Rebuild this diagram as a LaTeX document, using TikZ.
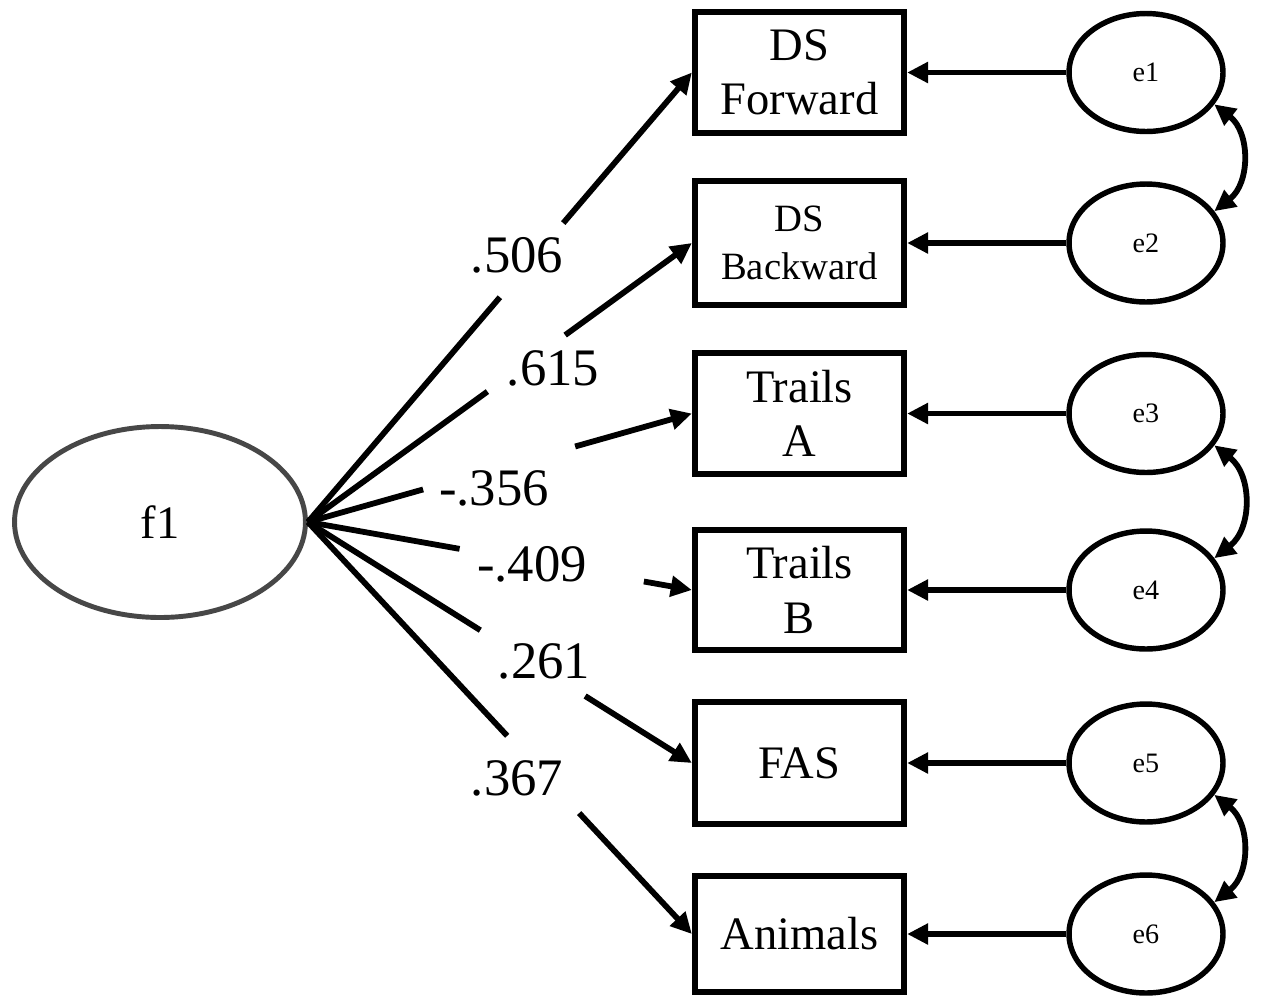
\documentclass[tikz,border=0pt]{standalone}
\usepackage{fontspec}
\setmainfont{Liberation Serif}
\usetikzlibrary{arrows.meta,shapes.geometric,calc}
\begin{document}
\begin{tikzpicture}[x=0.02cm,y=-0.02cm,
  obs/.style={draw, line width=3.6pt, minimum width=4.18cm, minimum height=2.42cm, inner sep=0pt, align=center, font=\fontsize{26.5}{31}\selectfont},
  err/.style={draw, ellipse, line width=3.1pt, minimum width=3.08cm, minimum height=2.36cm, inner sep=0pt, font=\fontsize{16}{18}\selectfont},
  lat/.style={draw=black!72, ellipse, line width=2.8pt, minimum width=5.82cm, minimum height=3.82cm, inner sep=0pt, font=\fontsize{26.5}{31}\selectfont},
  seg/.style={line width=3.3pt},
  arr/.style={line width=3.3pt, -{Triangle[length=12pt,width=11.5pt]}},
  dbl/.style={line width=3.3pt, {Triangle[length=12pt,width=11.5pt]}-{Triangle[length=12pt,width=11.5pt]}},
  coef/.style={font=\fontsize{30}{36}\selectfont, inner sep=0pt}
]
\useasboundingbox (0,0) rectangle (1262,995);

% latent factor
\node[lat] (f1) at (160,522) {f1};

% observed variables
\node[obs] (dsf) at (799.5,72.5) {DS\\Forward};
\node[obs, minimum height=2.48cm, font=\fontsize{22}{27}\selectfont] (dsb) at (799.5,243) {DS\\Backward};
\node[obs] (ta) at (799.5,413.5) {Trails\\A};
\node[obs, minimum height=2.40cm] (tb) at (799.5,590) {Trails\\B};
\node[obs, minimum height=2.44cm] (fas) at (799.5,763) {FAS};
\node[obs, minimum height=2.32cm] (ani) at (799.5,934) {Animals};

% error terms
\node[err] (e1) at (1146,72.5) {e1};
\node[err] (e2) at (1146,243) {e2};
\node[err] (e3) at (1146,413.5) {e3};
\node[err] (e4) at (1146,590) {e4};
\node[err] (e5) at (1146,763) {e5};
\node[err] (e6) at (1146,934) {e6};

% error arrows
\draw[arr] (e1) -- (dsf);
\draw[arr] (e2) -- (dsb);
\draw[arr] (e3) -- (ta);
\draw[arr] (e4) -- (tb);
\draw[arr] (e5) -- (fas);
\draw[arr] (e6) -- (ani);

% covariances
\draw[dbl] (e1.-25) to[out=-38,in=38,looseness=1.1] (e2.25);
\draw[dbl] (e3.-25) to[out=-38,in=38,looseness=1.1] (e4.25);
\draw[dbl] (e5.-25) to[out=-38,in=38,looseness=1.1] (e6.25);

% loadings
\coordinate (o) at (f1.east);
\draw[seg] (o) -- ($(o)!0.50!(dsf.west)$);
\draw[arr] ($(o)!0.665!(dsf.west)$) -- (dsf.west);
\node[coef] (l1) at (517,255) {.506};

\draw[seg] (o) -- ($(o)!0.4675!(dsb.west)$);
\draw[arr] ($(o)!0.67!(dsb.west)$) -- (dsb.west);
\node[coef] (l2) at (553,368) {.615};

\draw[seg] (o) -- ($(o)!0.30!(ta.west)$);
\draw[arr] ($(o)!0.696!(ta.west)$) -- (ta.west);
\node[coef] (l3) at (494,488) {-.356};

\draw[seg] (o) -- ($(o)!0.395!(tb.west)$);
\draw[arr] ($(o)!0.875!(tb.west)$) -- (tb.west);
\node[coef] (l4) at (532,564) {-.409};

\draw[seg] (o) -- ($(o)!0.449!(fas.west)$);
\draw[arr] ($(o)!0.722!(fas.west)$) -- (fas.west);
\node[coef] (l5) at (544,661) {.261};

\draw[seg] (o) -- ($(o)!0.519!(ani.west)$);
\draw[arr] ($(o)!0.7065!(ani.west)$) -- (ani.west);
\node[coef] (l6) at (517,778) {.367};
\end{tikzpicture}
\end{document}
